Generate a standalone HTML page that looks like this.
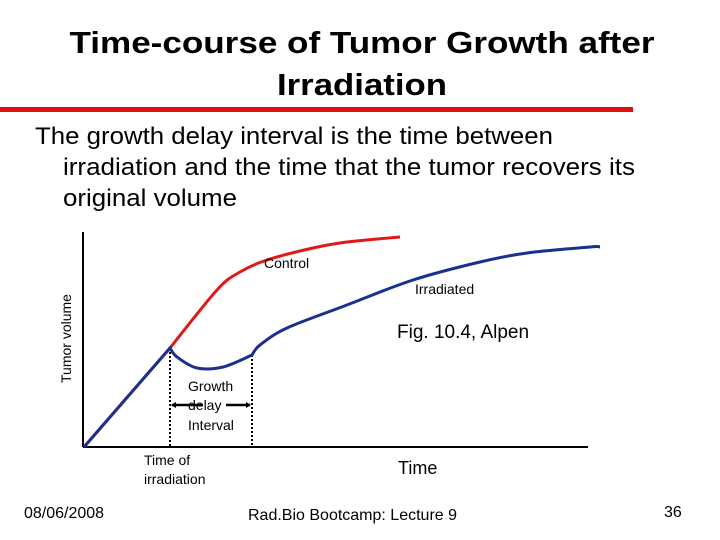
<!DOCTYPE html>
<html><head><meta charset="utf-8"><style>
body{margin:0;background:#fff}svg{display:block}
text{font-family:"Liberation Sans",Arial,sans-serif}
</style></head><body>
<svg width="720" height="540" viewBox="0 0 720 540">
<text x="362" y="53" text-anchor="middle" font-size="31" font-weight="bold" textLength="585" lengthAdjust="spacingAndGlyphs">Time-course of Tumor Growth after</text>
<text x="362" y="95" text-anchor="middle" font-size="31" font-weight="bold" textLength="170" lengthAdjust="spacingAndGlyphs">Irradiation</text>
<rect x="0" y="107" width="633" height="5" fill="#e01010"/>
<text x="35" y="144" font-size="24" textLength="518" lengthAdjust="spacingAndGlyphs">The growth delay interval is the time between</text>
<text x="63" y="175" font-size="24" textLength="572" lengthAdjust="spacingAndGlyphs">irradiation and the time that the tumor recovers its</text>
<text x="63" y="206" font-size="24" textLength="174" lengthAdjust="spacingAndGlyphs">original volume</text>
<g id="chart"></g>
<text x="24" y="518" font-size="16">08/06/2008</text>
<text x="248" y="520" font-size="16">Rad.Bio Bootcamp: Lecture 9</text>
<text x="664" y="517" font-size="16">36</text>
</svg>
<script>
const controlT=[0,17.2,26.6,31.2,36.6,45.8,52.6,63.2];
const controlV=[0,49.5,78.5,87.5,93.5,99.5,102.5,105];
const irrT=[0,17.2,18.6,22.6,27.8,33.6,35.2,40.6,52.6,65.8,79.2,88.6,101.2,103.2];
const irrV=[0,49.5,45,39.5,40,46,51,59.5,71,83.5,92.5,97,100,100];
const irradiationTime=17.2, recoveryTime=33.6;
const xS=t=>84+t*5, yS=v=>447-v*2;
const NS='http://www.w3.org/2000/svg', g=document.getElementById('chart');
function mk(tag,attrs,txt){const e=document.createElementNS(NS,tag);for(const k in attrs)e.setAttribute(k,attrs[k]);if(txt)e.textContent=txt;g.appendChild(e);return e;}
function smooth(T,V,sharp){const p=T.map((t,i)=>[xS(t),yS(V[i])]);let d='M'+p[0].join(',');
for(let i=0;i<p.length-1;i++){const p0=p[Math.max(0,i-1)],p1=p[i],p2=p[i+1],p3=p[Math.min(p.length-1,i+2)];
let a=p0,b=p3;if(sharp.includes(i))a=p1;if(sharp.includes(i+1))b=p2;
const c1=[p1[0]+(p2[0]-a[0])/6,p1[1]+(p2[1]-a[1])/6],c2=[p2[0]-(b[0]-p1[0])/6,p2[1]-(b[1]-p1[1])/6];
d+=` C${c1.join(',')} ${c2.join(',')} ${p2.join(',')}`;}return d;}
let e;
e=mk('line',{x1:83,y1:232,x2:83,y2:447,stroke:'#000','stroke-width':2});


e=mk('line',{x1:83,y1:447,x2:588,y2:447,stroke:'#000','stroke-width':2});


function vdots(t,v,name){e=mk('line',{x1:xS(t),y1:yS(v),x2:xS(t),y2:447,stroke:'#000','stroke-width':2,'stroke-dasharray':'2,2'});

}
vdots(irradiationTime,49.5,'irradiation-marker');
vdots(recoveryTime,46,'recovery-marker');
e=mk('path',{d:smooth(controlT,controlV,[0,1]),fill:'none',stroke:'#e01818','stroke-width':3});


e=mk('path',{d:smooth(irrT,irrV,[0,1,5]),fill:'none',stroke:'#1a2f8f','stroke-width':3});


e=mk('line',{x1:xS(irradiationTime)+2,y1:405,x2:203,y2:405,stroke:'#000','stroke-width':2.5});


e=mk('line',{x1:226,y1:405,x2:xS(recoveryTime)-2,y2:405,stroke:'#000','stroke-width':2.5});


e=mk('polygon',{points:`${xS(irradiationTime)+1},405 ${xS(irradiationTime)+6},402 ${xS(irradiationTime)+6},408`,fill:'#000'});


e=mk('polygon',{points:`${xS(recoveryTime)-1},405 ${xS(recoveryTime)-6},402 ${xS(recoveryTime)-6},408`,fill:'#000'});


const labels=[[264,268,'Control',14,'control-label'],[415,294,'Irradiated',14,'irradiated-label'],[397,338,'Fig. 10.4, Alpen',19,'figure-citation'],[188,391,'Growth',14,'growth-delay-label-1'],[188,410,'delay',14,'growth-delay-label-2'],[188,430,'Interval',14,'growth-delay-label-3'],[144,465,'Time of',14,'irradiation-label-1'],[144,484,'irradiation',14,'irradiation-label-2'],[398,474,'Time',18,'x-axis-title']];
labels.forEach(l=>{e=mk('text',{x:l[0],y:l[1],'font-size':l[3]},l[2]);

});
e=mk('text',{x:0,y:0,'font-size':14,transform:'translate(71,383) rotate(-90)'},'Tumor volume');


</script>
</body></html>
